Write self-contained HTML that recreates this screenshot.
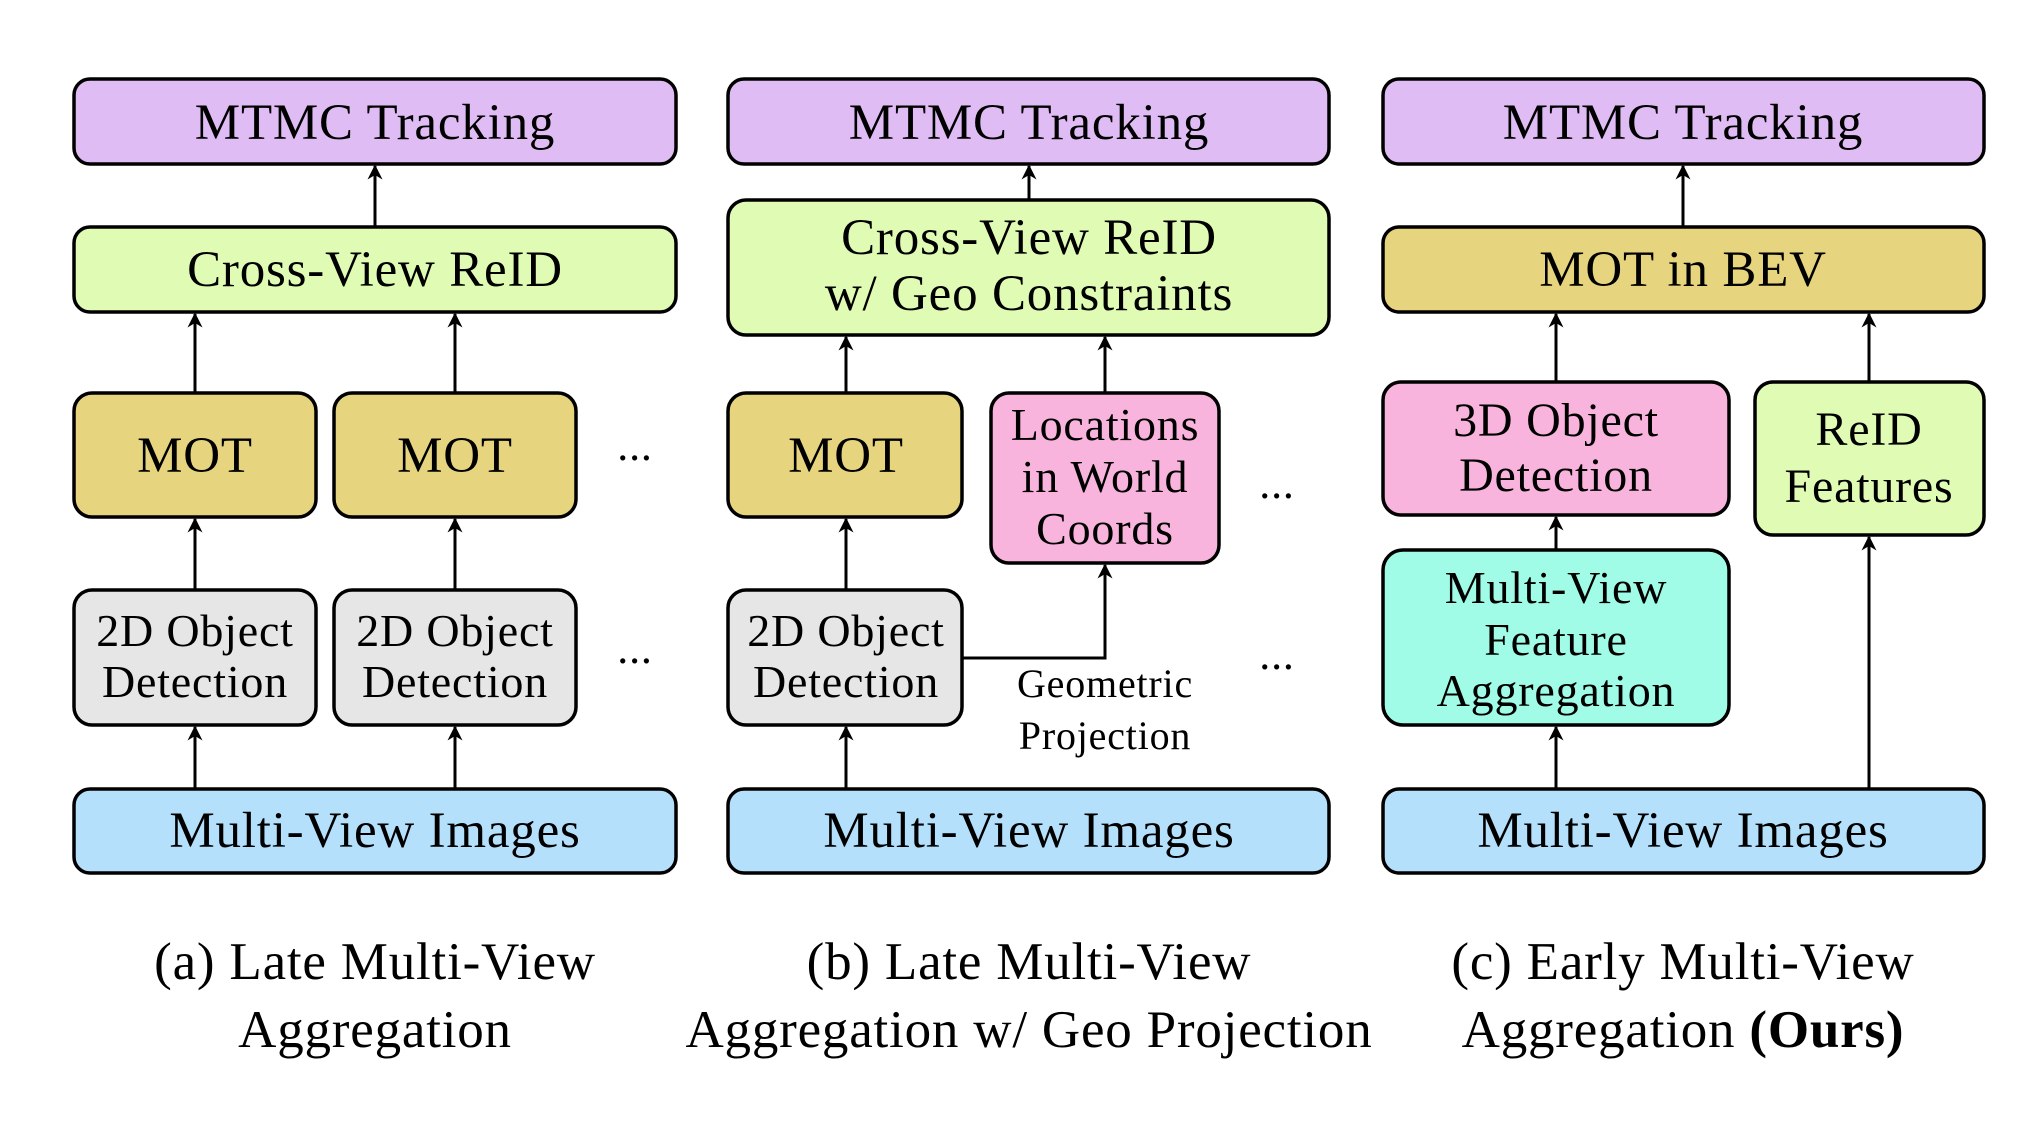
<!DOCTYPE html>
<html><head><meta charset="utf-8"><style>
html,body{margin:0;padding:0;background:#fff}
svg{display:block}
text{font-family:"Liberation Serif","Times New Roman",serif;fill:#000;letter-spacing:0.8px}
</style></head><body>
<svg width="2034" height="1130" viewBox="0 0 2034 1130" xmlns="http://www.w3.org/2000/svg">
<defs>
<marker id="ah" viewBox="0 0 10 10" refX="9" refY="5" markerWidth="5" markerHeight="5" orient="auto" markerUnits="strokeWidth">
<path d="M0,0 L10,5 L0,10 L3,5 z" fill="#000"/>
</marker>
</defs>
<g stroke="#000" stroke-width="3.5">
<rect x="74" y="79" width="602" height="85" rx="16" fill="#e0bcf4"/>
<rect x="74" y="227" width="602" height="85" rx="16" fill="#e0fcb4"/>
<rect x="74" y="393" width="242" height="124" rx="18" fill="#e6d47e"/>
<rect x="334" y="393" width="242" height="124" rx="18" fill="#e6d47e"/>
<rect x="74" y="590" width="242" height="135" rx="18" fill="#e6e6e6"/>
<rect x="334" y="590" width="242" height="135" rx="18" fill="#e6e6e6"/>
<rect x="74" y="789" width="602" height="84" rx="16" fill="#b4e0fc"/>

<rect x="728" y="79" width="601" height="85" rx="16" fill="#e0bcf4"/>
<rect x="728" y="200" width="601" height="135" rx="18" fill="#e0fcb4"/>
<rect x="728" y="393" width="234" height="124" rx="18" fill="#e6d47e"/>
<rect x="991" y="393" width="228" height="170" rx="18" fill="#f8b4dc"/>
<rect x="728" y="590" width="234" height="135" rx="18" fill="#e6e6e6"/>
<rect x="728" y="789" width="601" height="84" rx="16" fill="#b4e0fc"/>

<rect x="1383" y="79" width="601" height="85" rx="16" fill="#e0bcf4"/>
<rect x="1383" y="227" width="601" height="85" rx="16" fill="#e6d47e"/>
<rect x="1383" y="382" width="346" height="133" rx="18" fill="#f8b4dc"/>
<rect x="1755" y="382" width="229" height="153" rx="18" fill="#e0fcb4"/>
<rect x="1383" y="550" width="346" height="175" rx="20" fill="#a0fce6"/>
<rect x="1383" y="789" width="601" height="84" rx="16" fill="#b4e0fc"/>
</g>
<g stroke="#000" stroke-width="3" fill="none" marker-end="url(#ah)">
<line x1="375" y1="227" x2="375" y2="166"/>
<line x1="195" y1="393" x2="195" y2="314"/>
<line x1="455" y1="393" x2="455" y2="314"/>
<line x1="195" y1="590" x2="195" y2="519"/>
<line x1="455" y1="590" x2="455" y2="519"/>
<line x1="195" y1="789" x2="195" y2="727"/>
<line x1="455" y1="789" x2="455" y2="727"/>

<line x1="1029" y1="200" x2="1029" y2="166"/>
<line x1="846" y1="393" x2="846" y2="337"/>
<line x1="1105" y1="393" x2="1105" y2="337"/>
<line x1="846" y1="590" x2="846" y2="519"/>
<line x1="846" y1="789" x2="846" y2="727"/>
<polyline points="962,658 1105,658 1105,565"/>

<line x1="1683" y1="227" x2="1683" y2="166"/>
<line x1="1556" y1="382" x2="1556" y2="314"/>
<line x1="1869" y1="382" x2="1869" y2="314"/>
<line x1="1556" y1="550" x2="1556" y2="517"/>
<line x1="1556" y1="789" x2="1556" y2="727"/>
<line x1="1869" y1="789" x2="1869" y2="537"/>
</g>
<g font-size="51" text-anchor="middle">
<text x="375" y="139">MTMC Tracking</text>
<text x="375" y="286">Cross-View ReID</text>
<text x="195" y="472">MOT</text>
<text x="455" y="472">MOT</text>
<text x="195" y="646" font-size="46">2D Object</text>
<text x="195" y="697" font-size="46">Detection</text>
<text x="455" y="646" font-size="46">2D Object</text>
<text x="455" y="697" font-size="46">Detection</text>
<text x="375" y="847">Multi-View Images</text>

<text x="1029" y="139">MTMC Tracking</text>
<text x="1029" y="254">Cross-View ReID</text>
<text x="1029" y="310">w/ Geo Constraints</text>
<text x="846" y="472">MOT</text>
<text x="1105" y="440" font-size="46">Locations</text>
<text x="1105" y="492" font-size="46">in World</text>
<text x="1105" y="544" font-size="46">Coords</text>
<text x="846" y="646" font-size="46">2D Object</text>
<text x="846" y="697" font-size="46">Detection</text>
<text x="1105" y="697" font-size="40">Geometric</text>
<text x="1105" y="749" font-size="40">Projection</text>
<text x="1029" y="847">Multi-View Images</text>

<text x="1683" y="139">MTMC Tracking</text>
<text x="1683" y="286">MOT in BEV</text>
<text x="1556" y="436" font-size="48">3D Object</text>
<text x="1556" y="491" font-size="48">Detection</text>
<text x="1869" y="445" font-size="48">ReID</text>
<text x="1869" y="502" font-size="48">Features</text>
<text x="1556" y="603" font-size="46">Multi-View</text>
<text x="1556" y="655" font-size="46">Feature</text>
<text x="1556" y="706" font-size="46">Aggregation</text>
<text x="1683" y="847">Multi-View Images</text>

<text x="635" y="460" font-size="44">...</text>
<text x="635" y="663" font-size="44">...</text>
<text x="1277" y="498" font-size="44">...</text>
<text x="1277" y="669" font-size="44">...</text>

<text x="375" y="979" font-size="53">(a) Late Multi-View</text>
<text x="375" y="1047" font-size="53">Aggregation</text>
<text x="1029" y="979" font-size="53">(b) Late Multi-View</text>
<text x="1029" y="1047" font-size="53">Aggregation w/ Geo Projection</text>
<text x="1683" y="979" font-size="53">(c) Early Multi-View</text>
<text x="1683" y="1047" font-size="53">Aggregation <tspan font-weight="bold">(Ours)</tspan></text>
</g>
</svg>
</body></html>
